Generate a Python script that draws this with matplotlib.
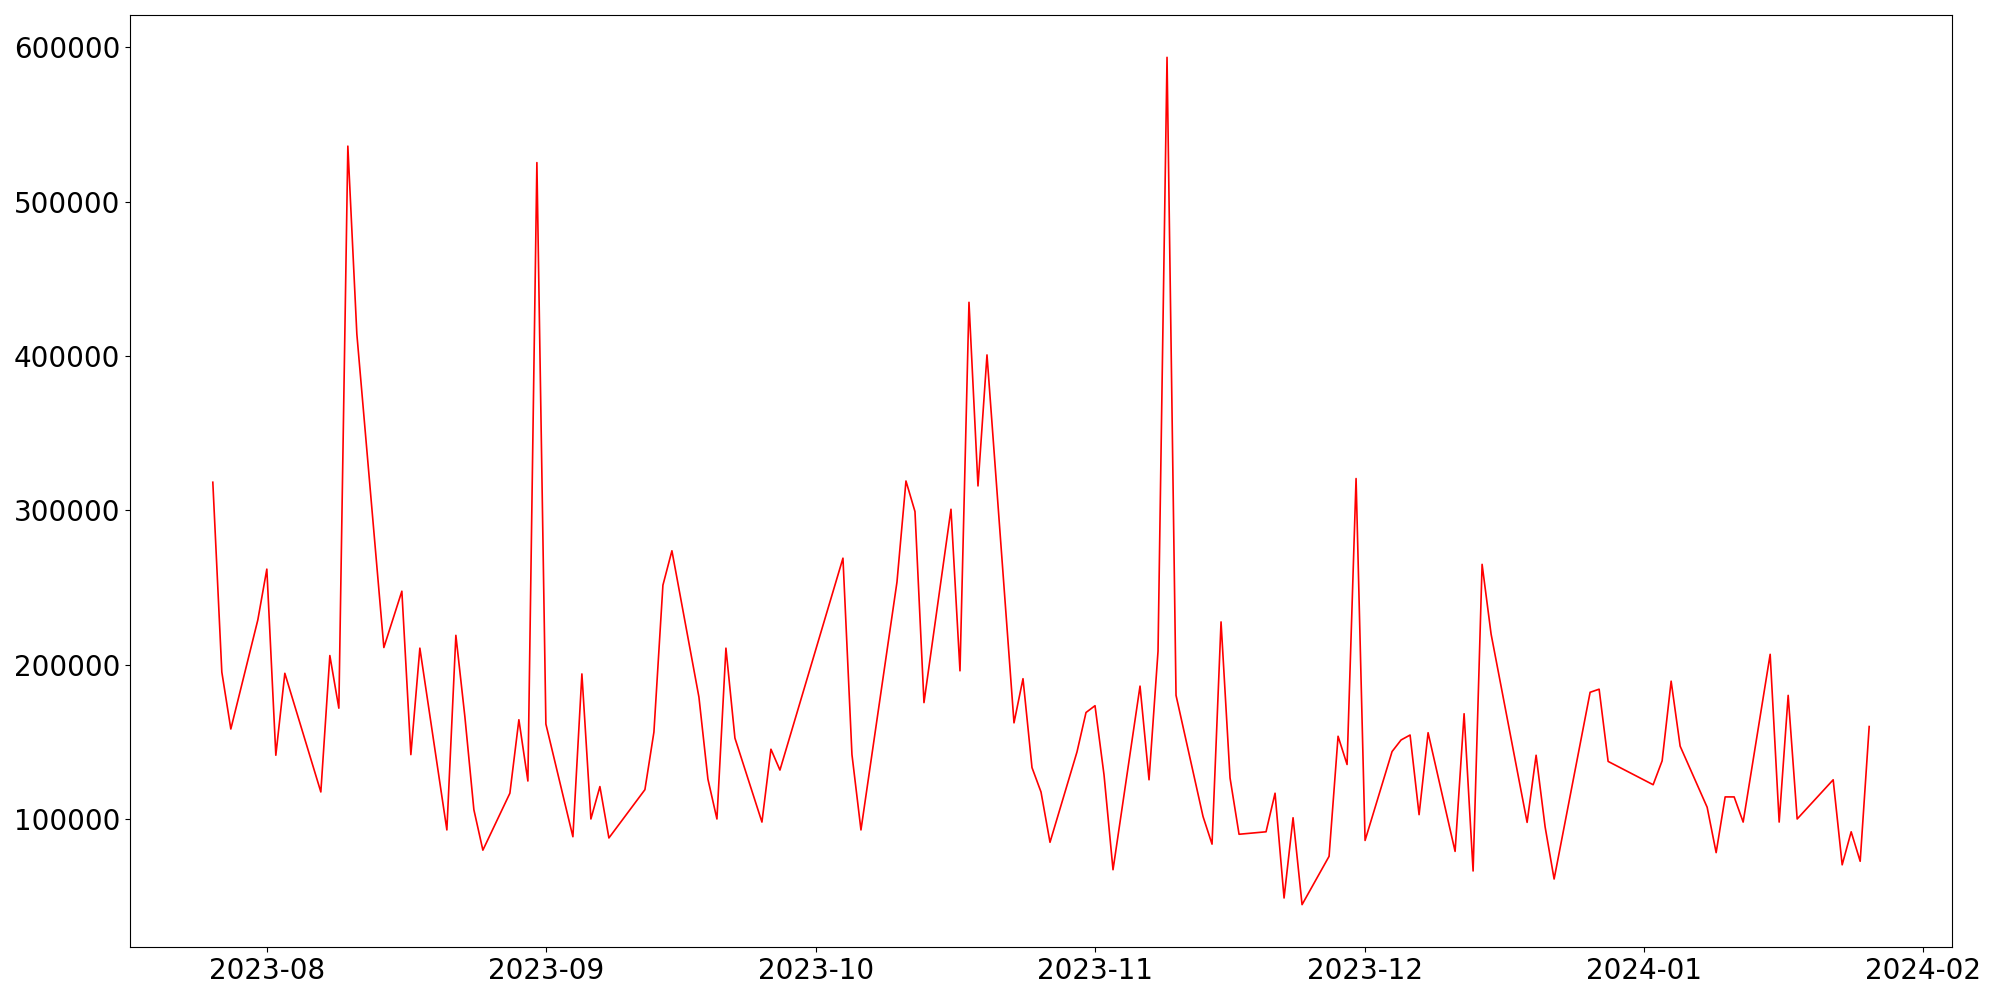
import matplotlib
matplotlib.use("Agg")
import matplotlib.pyplot as plt
import pandas as pd

dates = [
    "2023-07-26", "2023-07-27", "2023-07-28", "2023-07-31", "2023-08-01", "2023-08-02",
    "2023-08-03", "2023-08-07", "2023-08-08", "2023-08-09", "2023-08-10", "2023-08-11",
    "2023-08-14", "2023-08-16", "2023-08-17", "2023-08-18", "2023-08-21", "2023-08-22",
    "2023-08-23", "2023-08-24", "2023-08-25", "2023-08-28", "2023-08-29", "2023-08-30",
    "2023-08-31", "2023-09-01", "2023-09-04", "2023-09-05", "2023-09-06", "2023-09-07",
    "2023-09-08", "2023-09-12", "2023-09-13", "2023-09-14", "2023-09-15", "2023-09-18",
    "2023-09-19", "2023-09-20", "2023-09-21", "2023-09-22", "2023-09-25", "2023-09-26",
    "2023-09-27", "2023-10-04", "2023-10-05", "2023-10-06", "2023-10-10", "2023-10-11",
    "2023-10-12", "2023-10-13", "2023-10-16", "2023-10-17", "2023-10-18", "2023-10-19",
    "2023-10-20", "2023-10-23", "2023-10-24", "2023-10-25", "2023-10-26", "2023-10-27",
    "2023-10-30", "2023-10-31", "2023-11-01", "2023-11-02", "2023-11-03", "2023-11-06",
    "2023-11-07", "2023-11-08", "2023-11-09", "2023-11-10", "2023-11-13", "2023-11-14",
    "2023-11-15", "2023-11-16", "2023-11-17", "2023-11-20", "2023-11-21", "2023-11-22",
    "2023-11-23", "2023-11-24", "2023-11-27", "2023-11-28", "2023-11-29", "2023-11-30",
    "2023-12-01", "2023-12-04", "2023-12-05", "2023-12-06", "2023-12-07", "2023-12-08",
    "2023-12-11", "2023-12-12", "2023-12-13", "2023-12-14", "2023-12-15", "2023-12-19",
    "2023-12-20", "2023-12-21", "2023-12-22", "2023-12-26", "2023-12-27", "2023-12-28",
    "2024-01-02", "2024-01-03", "2024-01-04", "2024-01-05", "2024-01-08", "2024-01-09",
    "2024-01-10", "2024-01-11", "2024-01-12", "2024-01-15", "2024-01-16", "2024-01-17",
    "2024-01-18", "2024-01-22", "2024-01-23", "2024-01-24", "2024-01-25", "2024-01-26",
]

values = [
    318200, 195200, 158300, 229000, 261900, 141300,
    194400, 117500, 205900, 171800, 536000, 414200,
    211100, 247600, 141700, 210700, 92900, 219000,
    166300, 106000, 79800, 116700, 164300, 124600,
    525300, 161500, 88500, 194000, 100000, 121000,
    87700, 119000, 156300, 251500, 273800, 179000,
    125800, 100000, 210700, 152400, 98000, 145200,
    131700, 269000, 141700, 92900, 253500, 319000,
    299200, 175400, 300700, 196000, 434800, 315800,
    400700, 162300, 190900, 133300, 117500, 84900,
    143500, 169000, 173400, 128600, 67100, 186100,
    125400, 208700, 593500, 180100, 101600, 83700,
    227700, 126600, 90100, 91700, 116700, 48800,
    100800, 44500, 75800, 153600, 135300, 320600,
    86100, 143700, 151200, 154400, 102800, 155900,
    79000, 168200, 66300, 265000, 219800, 97800,
    141300, 94900, 61100, 182100, 184100, 137300,
    122200, 137700, 189300, 147200, 107600, 78200,
    114300, 114300, 98000, 206700, 98000, 180100,
    100000, 125400, 70300, 91700, 72600, 159900,
]

x = pd.to_datetime(dates)

fig, ax = plt.subplots(figsize=(20, 10), dpi=100)
fig.subplots_adjust(left=0.065, right=0.976, top=0.985, bottom=0.053)
ax.plot(x, values, color="red", linewidth=1.2)
ax.tick_params(axis="both", labelsize=20)
fig.savefig("out.png", dpi=100)
